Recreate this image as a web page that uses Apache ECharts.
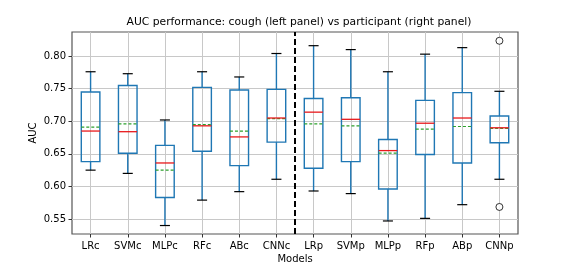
<!DOCTYPE html>
<html><head><meta charset="utf-8">
<script src="https://cdn.jsdelivr.net/npm/echarts@6/dist/echarts.min.js"></script>
<style>html,body{margin:0;padding:0;background:#fff}#c{width:575px;height:264px}</style>
</head><body><div id="c"></div>
<script>
const categories = ['LRc','SVMc','MLPc','RFc','ABc','CNNc','LRp','SVMp','MLPp','RFp','ABp','CNNp'];
const whiskerLow  = [0.625,0.620,0.540,0.579,0.592,0.611,0.593,0.589,0.547,0.551,0.572,0.611];
const q1          = [0.638,0.651,0.583,0.654,0.632,0.668,0.628,0.638,0.596,0.649,0.636,0.667];
const medians     = [0.685,0.684,0.636,0.693,0.676,0.705,0.714,0.703,0.655,0.697,0.705,0.690];
const q3          = [0.745,0.755,0.663,0.752,0.748,0.749,0.735,0.736,0.672,0.732,0.744,0.708];
const whiskerHigh = [0.776,0.773,0.702,0.776,0.768,0.804,0.816,0.810,0.776,0.803,0.813,0.746];
const means       = [0.691,0.696,0.625,0.695,0.685,0.704,0.696,0.693,0.651,0.688,0.692,0.689];
const outliers    = [[11,0.8235],[11,0.5685]];
const yTicks = [0.55,0.60,0.65,0.70,0.75,0.80];

const boxData = categories.map((c,i)=>[i,whiskerLow[i],q1[i],medians[i],q3[i],whiskerHigh[i],means[i]]);
const chart = echarts.init(document.getElementById('c'),null,{renderer:'canvas'});
const FONT = 'DejaVu Sans';
chart.setOption({
  animation:false,
  backgroundColor:'#fff',
  title:{text:'AUC performance: cough (left panel) vs participant (right panel)',left:294,top:12,textAlign:'center',
    textStyle:{fontFamily:FONT,fontSize:10.75,fontWeight:'normal',color:'#000'}},
  grid:{left:72,right:57,top:32,bottom:30,show:true,borderColor:'#555',borderWidth:1.2,backgroundColor:'transparent',
    containLabel:false,outerBoundsMode:'none'},
  xAxis:{type:'value',min:-0.5,max:11.5,name:'Models',nameLocation:'middle',nameGap:20,nameMoveOverlap:false,
    nameTextStyle:{fontFamily:FONT,fontSize:10,color:'#000'},
    axisLine:{show:false,onZero:false},
    axisTick:{show:true,length:3.5,lineStyle:{color:'#333'},customValues:categories.map((c,i)=>i)},
    axisLabel:{fontFamily:FONT,fontSize:10,color:'#000',margin:7,customValues:categories.map((c,i)=>i),formatter:v=>categories[Math.round(v)]},
    splitLine:{show:true,lineStyle:{color:'#c8c8c8',width:1}}},
  yAxis:{type:'value',min:0.527,max:0.837,name:'AUC',nameLocation:'middle',nameGap:34,nameMoveOverlap:false,
    nameTextStyle:{fontFamily:FONT,fontSize:10,color:'#000'},
    axisLine:{show:false,onZero:false},
    axisTick:{show:true,length:3.5,lineStyle:{color:'#333'},customValues:yTicks},
    axisLabel:{fontFamily:FONT,fontSize:10,color:'#000',margin:6,customValues:yTicks,formatter:v=>v.toFixed(2)},
    splitLine:{show:true,lineStyle:{color:'#c8c8c8',width:1}}},
  series:[
    {type:'custom',data:boxData,
     encode:{x:0,y:[1,2,3,4,5]},
     renderItem:function(params,api){
       const i=api.value(0);
       const unit=api.size([1,0])[0];
       const hb=unit*0.25, hc=unit*0.135;
       const x=api.coord([i,0])[0];
       const yLo=api.coord([i,api.value(1)])[1];
       const yQ1=api.coord([i,api.value(2)])[1];
       const yMed=api.coord([i,api.value(3)])[1];
       const yQ3=api.coord([i,api.value(4)])[1];
       const yHi=api.coord([i,api.value(5)])[1];
       const yMean=api.coord([i,api.value(6)])[1];
       const blue={stroke:'#1f77b4',lineWidth:1.4,fill:null};
       return {type:'group',children:[
         {type:'line',shape:{x1:x,y1:yQ1,x2:x,y2:yLo},style:blue},
         {type:'line',shape:{x1:x,y1:yQ3,x2:x,y2:yHi},style:blue},
         {type:'line',shape:{x1:x-hc,y1:yLo,x2:x+hc,y2:yLo},style:{stroke:'#000',lineWidth:1.2}},
         {type:'line',shape:{x1:x-hc,y1:yHi,x2:x+hc,y2:yHi},style:{stroke:'#000',lineWidth:1.2}},
         {type:'rect',shape:{x:x-hb,y:yQ3,width:2*hb,height:yQ1-yQ3},style:{stroke:'#1f77b4',lineWidth:1.4,fill:'rgba(0,0,0,0)'}},
         {type:'line',shape:{x1:x-hb,y1:yMean,x2:x+hb,y2:yMean},style:{stroke:'#2ca02c',lineWidth:1.2,lineDash:[3,2]}},
         {type:'line',shape:{x1:x-hb,y1:yMed,x2:x+hb,y2:yMed},style:{stroke:'#e8191c',lineWidth:1.3}}
       ]};
     },
     markLine:{silent:true,symbol:'none',label:{show:false},
       lineStyle:{color:'#000',type:[6,3],width:2},
       data:[{xAxis:5.5}]}
    },
    {type:'scatter',data:outliers,symbol:'circle',symbolSize:7,
     itemStyle:{color:'#fff',borderColor:'#000',borderWidth:1}}
  ]
});
</script></body></html>
